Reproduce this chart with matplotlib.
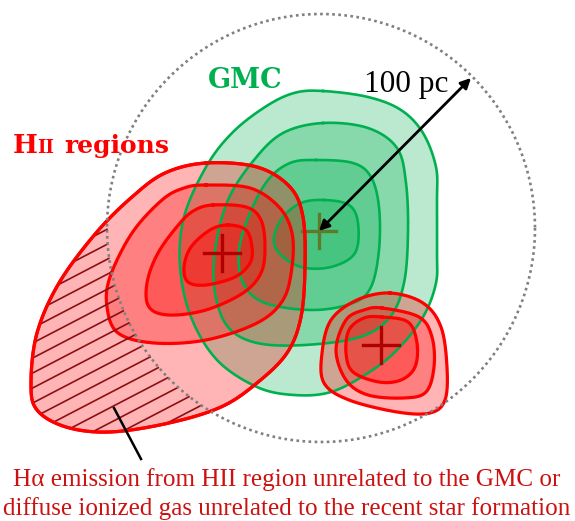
import numpy as np
import matplotlib
matplotlib.use("Agg")
import matplotlib.pyplot as plt

# schematic drawn in pixel coordinates of the 575x521 canvas (y goes down)
W, H = 575, 521

# GMC contours, outer -> inner (control points of smooth closed curves)
gmc_1 = [(323, 91), (368, 97), (401, 110), (423, 133), (436, 167), (437, 200), (437, 250),
         (436, 283), (423, 317), (397, 350), (368, 373), (331, 392), (294, 395), (257, 387),
         (217, 360), (191, 317), (180, 267), (184, 217), (206, 167), (232, 133), (265, 107), (294, 93)]
gmc_2 = [(323, 123), (368, 128), (397, 148), (406, 183), (408, 233), (404, 283), (390, 317),
         (360, 337), (305, 345), (257, 343), (228, 327), (215, 293), (215, 250), (228, 200),
         (254, 160), (283, 133)]
gmc_3 = [(316, 160), (353, 163), (371, 177), (379, 207), (379, 250), (371, 287), (353, 303),
         (313, 310), (265, 303), (243, 283), (239, 250), (250, 213), (268, 180), (290, 163)]
gmc_4 = [(324, 200), (349, 205), (358, 223), (355, 253), (331, 267), (301, 267), (279, 253),
         (274, 237), (283, 217), (301, 203)]
gmc_contours = [gmc_1, gmc_2, gmc_3, gmc_4]

# large HII region, outer -> inner
hii_a1 = [(206, 163), (257, 167), (290, 187), (303, 217), (305, 267), (301, 317), (287, 353),
          (257, 383), (221, 407), (169, 423), (110, 432), (66, 427), (37, 410), (31, 383),
          (37, 333), (59, 283), (96, 233), (132, 197), (165, 173)]
hii_a2 = [(206, 185), (250, 188), (279, 207), (292, 233), (292, 267), (283, 300), (257, 323),
          (206, 340), (154, 343), (118, 333), (107, 307), (110, 277), (132, 233), (162, 200), (184, 188)]
hii_a3 = [(213, 205), (246, 207), (261, 220), (265, 247), (261, 273), (243, 293), (206, 310),
          (169, 315), (149, 307), (147, 283), (158, 253), (180, 223), (195, 210)]
hii_a4 = [(228, 225), (246, 230), (252, 247), (250, 263), (235, 277), (206, 285), (188, 282),
          (184, 267), (191, 247), (210, 230)]
hii_big = [hii_a1, hii_a2, hii_a3, hii_a4]

# small HII region, outer -> inner
hii_b1 = [(390, 293), (423, 303), (441, 327), (447, 367), (445, 400), (430, 413), (397, 412),
          (349, 400), (324, 383), (322, 353), (331, 320), (357, 300)]
hii_b2 = [(382, 308), (419, 317), (432, 337), (434, 367), (426, 392), (404, 398), (368, 395),
          (346, 380), (336, 350), (346, 320), (364, 310)]
hii_b3 = [(382, 317), (408, 322), (417, 343), (415, 367), (401, 380), (379, 382), (353, 372),
          (346, 353), (349, 330), (364, 318)]
hii_small = [hii_b1, hii_b2, hii_b3]

# peak markers
gmc_peak = (319, 231)
hii_peaks = [(222, 253), (381, 345)]

# 100 pc circle around the GMC peak
circle_center = (321, 228)
circle_radius = 214
arrow_end = (471, 78)

caption = ["H\u03b1 emission from HII region unrelated to the GMC or",
           "diffuse ionized gas unrelated to the recent star formation"]


def smooth_closed(pts, n=40):
    # closed Catmull-Rom spline through the control points
    P = np.asarray(pts, float)
    N = len(P)
    t = np.linspace(0, 1, n, endpoint=False)[:, None]
    segs = []
    for i in range(N):
        p0, p1, p2, p3 = P[i - 1], P[i], P[(i + 1) % N], P[(i + 2) % N]
        segs.append(0.5 * (2 * p1 + (-p0 + p2) * t + (2 * p0 - 5 * p1 + 4 * p2 - p3) * t ** 2
                           + (-p0 + 3 * p1 - 3 * p2 + p3) * t ** 3))
    out = np.vstack(segs)
    return np.vstack([out, out[:1]])


GREEN = '#00b050'
RED = '#ff0000'

fig = plt.figure(figsize=(W / 100, H / 100), dpi=100)
ax = fig.add_axes([0, 0, 1, 1])
ax.set_xlim(0, W)
ax.set_ylim(H, 0)
ax.axis('off')

for c in gmc_contours:
    xy = smooth_closed(c)
    ax.fill(xy[:, 0], xy[:, 1], color=GREEN, alpha=0.27, lw=0)
    ax.plot(xy[:, 0], xy[:, 1], color=GREEN, lw=1.9)

ax.plot([gmc_peak[0] - 17, gmc_peak[0] + 17], [gmc_peak[1], gmc_peak[1]], color='#5f7a2a', lw=2.4)
ax.plot([gmc_peak[0], gmc_peak[0]], [gmc_peak[1] - 17, gmc_peak[1] + 17], color='#5f7a2a', lw=2.4)

outer_patch = None
for c in hii_big:
    xy = smooth_closed(c)
    p = ax.fill(xy[:, 0], xy[:, 1], color=RED, alpha=0.29, lw=0)[0]
    if outer_patch is None:
        outer_patch = p
for c in hii_big:
    xy = smooth_closed(c)
    ax.plot(xy[:, 0], xy[:, 1], color=RED, lw=2.3)

# hatching: part of the big HII region outside the 100 pc circle
xs = np.linspace(0, W, 1200)
for c0 in np.arange(150, 800, 15):
    ys = c0 - 0.52 * xs
    inside = (xs - circle_center[0]) ** 2 + (ys - circle_center[1]) ** 2 < circle_radius ** 2
    ys = np.where(inside, np.nan, ys)
    ln, = ax.plot(xs, ys, color='#8b0f14', lw=1.2)
    ln.set_clip_path(outer_patch)
xy = smooth_closed(hii_a1)
ax.plot(xy[:, 0], xy[:, 1], color=RED, lw=2.3)

for c in hii_small:
    xy = smooth_closed(c)
    ax.fill(xy[:, 0], xy[:, 1], color=RED, alpha=0.29, lw=0)
    ax.plot(xy[:, 0], xy[:, 1], color=RED, lw=2.3)

for px, py in hii_peaks:
    ax.plot([px - 18, px + 18], [py, py], color='#b00000', lw=2.4)
    ax.plot([px, px], [py - 18, py + 18], color='#b00000', lw=2.4)

th = np.linspace(0, 2 * np.pi, 400)
ax.plot(circle_center[0] + circle_radius * np.cos(th), circle_center[1] + circle_radius * np.sin(th),
        color='#808080', lw=1.9, ls=(0, (1, 1.3)))

ax.annotate('', xy=gmc_peak, xytext=arrow_end,
            arrowprops=dict(arrowstyle='<|-|>', lw=2.0, color='black', mutation_scale=15,
                            shrinkA=0, shrinkB=0))
ax.plot([114, 141], [408, 459], color='black', lw=1.8)

ax.text(208, 88, 'GMC', color=GREEN, fontsize=19.5, fontweight='bold', family='DejaVu Serif', va='baseline')
ax.text(13, 153, 'H', color=RED, fontsize=19, fontweight='bold', family='DejaVu Serif', va='baseline')
ax.text(37, 153, 'II', color=RED, fontsize=13, fontweight='bold', family='DejaVu Serif', va='baseline')
ax.text(64, 153, 'regions', color=RED, fontsize=18, fontweight='bold', family='DejaVu Serif', va='baseline')
ax.text(364, 92, '100 pc', color='black', fontsize=22.5, family='Liberation Serif', va='baseline')
ax.text(287, 486, caption[0], color='#cc1111', fontsize=18.1, family='Liberation Serif',
        ha='center', va='baseline')
ax.text(287, 515, caption[1], color='#cc1111', fontsize=18.1, family='Liberation Serif',
        ha='center', va='baseline')

fig.savefig('out.png', dpi=100)
